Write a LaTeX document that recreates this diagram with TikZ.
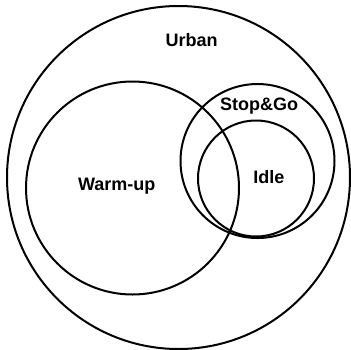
\documentclass[tikz,border=0pt]{standalone}
\usepackage{fontspec}
\setmainfont{Liberation Sans}
\begin{document}
\begin{tikzpicture}[x=1pt,y=-1pt,
  setring/.style={draw=black,line width=2pt,circle},
  setlabel/.style={font=\fontsize{18}{20}\selectfont\bfseries,anchor=base,inner sep=0pt}]
\useasboundingbox (0,0) rectangle (351,349);
% sets, drawn as circles
\draw[setring] (178.5,177.5) circle[radius=171.5];
\draw[setring] (132.5,188) circle[radius=106.5];
\draw[setring] (257.5,161) circle[radius=77];
\draw[setring] (256,178.5) circle[radius=58];
% set names
\node[setlabel] (urban) at (191.7,46.7) {Urban};
\node[setlabel] (warm) at (116.7,190) {Warm-up};
\node[setlabel] (stop) at (259,110.7) {Stop\&Go};
\node[setlabel] (idle) at (268.8,183.3) {Idle};
\end{tikzpicture}
\end{document}
